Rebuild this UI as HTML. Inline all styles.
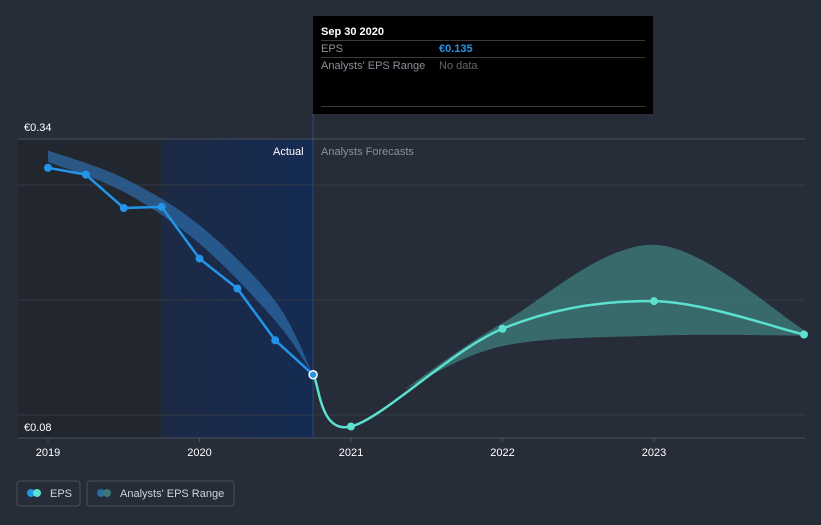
<!DOCTYPE html>
<html><head><meta charset="utf-8"><style>
body{margin:0;background:#262c38;font-family:"Liberation Sans",sans-serif;}
svg text{font-family:"Liberation Sans",sans-serif;}
</style></head><body>
<svg width="821" height="520" id="c">
<defs>
<linearGradient id="bg1" x1="0" x2="1"><stop offset="0" stop-color="#1c2a44"/><stop offset="1" stop-color="#152b52"/></linearGradient>
</defs>
<rect width="821" height="520" fill="#262c38"/>
<rect x="18" y="139" width="143" height="299" fill="#22262e"/>
<rect x="161" y="139" width="152" height="299" fill="url(#bg1)"/>
<line x1="313" y1="114" x2="313" y2="438" stroke="#2c4a78" stroke-width="1"/>
<g id="grid"></g>
<text x="273" y="155" fill="#fff" font-size="11">Actual</text>
<text x="321" y="155" fill="#8a9099" font-size="11">Analysts Forecasts</text>
<g id="marks"></g>
<g>
<rect x="313" y="16" width="340" height="98" fill="#000"/>
<text x="321" y="35" fill="#fff" font-size="11" font-weight="bold">Sep 30 2020</text>
<line x1="321" y1="40.5" x2="645" y2="40.5" stroke="#3a3a3a"/>
<text x="321" y="52" fill="#8a9099" font-size="11">EPS</text>
<text x="439" y="52" fill="#2394e8" font-size="11" font-weight="bold">€0.135</text>
<line x1="321" y1="57.5" x2="645" y2="57.5" stroke="#3a3a3a"/>
<text x="321" y="69" fill="#8a9099" font-size="11">Analysts' EPS Range</text>
<text x="439" y="69" fill="#666" font-size="11">No data</text>
<line x1="321" y1="106.5" x2="645" y2="106.5" stroke="#3a3a3a"/>
</g>
<g>
<rect x="17" y="481" width="63" height="25" rx="3" fill="none" stroke="#4a505c"/>
<circle cx="31" cy="493" r="4" fill="#2394e8"/><circle cx="37" cy="493" r="4" fill="#5ce0d0"/>
<text x="50" y="497" fill="#cfd3da" font-size="11">EPS</text>
<rect x="87" y="481" width="147" height="25" rx="3" fill="none" stroke="#4a505c"/>
<circle cx="101" cy="493" r="4" fill="#2d6a9e"/><circle cx="107" cy="493" r="4" fill="#3d7774"/>
<text x="120" y="497" fill="#cfd3da" font-size="11">Analysts' EPS Range</text>
</g>
</svg>
<script>
const years=[2019,2020,2021,2022,2023];
const yTicks=[0.1,0.2,0.3];
const actX=[2019,2019.25,2019.5,2019.75,2020,2020.25,2020.5,2020.75];
const actV=[0.315,0.309,0.280,0.281,0.236,0.210,0.165,0.135];
const pastBandX=[2019,2019.5,2020,2020.5,2020.75];
const pastHi=[0.330,0.306,0.265,0.199,0.135];
const pastLo=[0.320,0.294,0.249,0.182,0.135];
const fcX=[2020.75,2021,2022,2023,2023.99];
const fcV=[0.135,0.090,0.175,0.199,0.170];
const rangeX=[2021.35,2022,2023,2023.99];
const rangeHi=[0.122,0.180,0.248,0.174];
const rangeLo=[0.122,0.160,0.169,0.169];
const X=t=>48+(t-2019)*151.5, Y=v=>438-(v-0.08)*1150;
const ns="http://www.w3.org/2000/svg";
function mk(tag,at,parent){const e=document.createElementNS(ns,tag);for(const k in at)e.setAttribute(k,at[k]);document.getElementById(parent).appendChild(e);return e;}
function smooth(pts){let d="M"+pts[0][0]+","+pts[0][1];for(let i=0;i<pts.length-1;i++){const p0=pts[i-1]||pts[i],p1=pts[i],p2=pts[i+1],p3=pts[i+2]||p2;const c1=[p1[0]+(p2[0]-p0[0])/6,p1[1]+(p2[1]-p0[1])/6],c2=[p2[0]-(p3[0]-p1[0])/6,p2[1]-(p3[1]-p1[1])/6];d+=` C${c1[0]},${c1[1]} ${c2[0]},${c2[1]} ${p2[0]},${p2[1]}`;}return d;}
let g=mk("line",{x1:18,x2:805,y1:139,y2:139,stroke:"#4a505c"},"grid");

yTicks.forEach(v=>{const l=mk("line",{x1:18,x2:805,y1:Y(v),y2:Y(v),stroke:"#343a46"},"grid");
});
let ax=mk("line",{x1:18,x2:805,y1:438,y2:438,stroke:"#4a505c"},"grid");

let t1=mk("text",{x:24,y:131,fill:"#fff","font-size":11},"grid");t1.textContent="€0.34";

let t2=mk("text",{x:24,y:431,fill:"#fff","font-size":11},"grid");t2.textContent="€0.08";

years.forEach(y=>{const t=mk("text",{x:X(y),y:456,fill:"#fff","font-size":11,"text-anchor":"middle"},"grid");t.textContent=y;

mk("line",{x1:X(y),x2:X(y),y1:438,y2:442,stroke:"#4a505c"},"grid");});
let up=pastBandX.map((x,i)=>[X(x),Y(pastHi[i])]),lo=pastBandX.map((x,i)=>[X(x),Y(pastLo[i])]).reverse();
let pb=mk("path",{d:smooth(up)+" L"+smooth(lo).slice(1)+"Z",fill:"#2d6ca8","fill-opacity":0.7},"marks");

up=rangeX.map((x,i)=>[X(x),Y(rangeHi[i])]);lo=rangeX.map((x,i)=>[X(x),Y(rangeLo[i])]).reverse();
let rb=mk("path",{d:smooth(up)+" L"+smooth(lo).slice(1)+"Z",fill:"#3f7a78","fill-opacity":0.8},"marks");

let ap=actX.map((x,i)=>[X(x),Y(actV[i])]);
let al=mk("path",{d:"M"+ap.map(p=>p.join(",")).join(" L"),fill:"none",stroke:"#2394e8","stroke-width":2.5},"marks");

let fp=fcX.map((x,i)=>[X(x),Y(fcV[i])]);
let fl=mk("path",{d:smooth(fp),fill:"none",stroke:"#5ce0d0","stroke-width":2.5},"marks");

ap.forEach((p,i)=>{const c=mk("circle",{cx:p[0],cy:p[1],r:4,fill:"#2394e8"},"marks");


if(i==ap.length-1){c.setAttribute("stroke","#fff");c.setAttribute("stroke-width",1.5);}});
fp.slice(1).forEach(p=>{const c=mk("circle",{cx:p[0],cy:p[1],r:4,fill:"#5ce0d0"},"marks");

});
</script>
</body></html>
